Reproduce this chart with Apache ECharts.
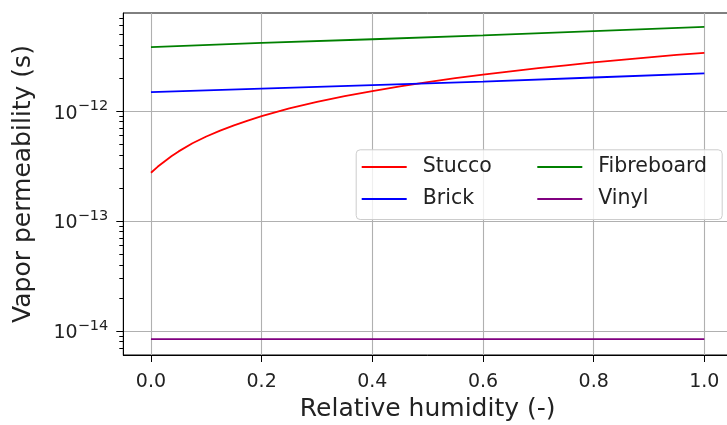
<!DOCTYPE html>
<html>
<head>
<meta charset="utf-8">
<script src="https://cdn.jsdelivr.net/npm/echarts@6/dist/echarts.min.js"></script>
<style>
  html, body { margin: 0; padding: 0; background: #fff; overflow: hidden; }
  #chart { width: 732px; height: 425px; }
</style>
</head>
<body>
<div id="chart"></div>
<script>
// relative humidity samples
const rh = [0, 0.0125, 0.025, 0.0375, 0.05, 0.075, 0.1, 0.125, 0.15, 0.175, 0.2, 0.25, 0.3, 0.35, 0.4, 0.45, 0.5,
            0.55, 0.6, 0.65, 0.7, 0.75, 0.8, 0.85, 0.9, 0.95, 1.0];
// vapor permeability (s)
const stucco = [2.75e-13, 3.13e-13, 3.5e-13, 3.9e-13, 4.3e-13, 5.1e-13, 5.87e-13, 6.64e-13, 7.42e-13, 8.2e-13, 8.98e-13,
                1.06e-12, 1.21e-12, 1.37e-12, 1.52e-12, 1.68e-12, 1.83e-12,
                1.99e-12, 2.15e-12, 2.3e-12, 2.46e-12, 2.61e-12, 2.77e-12, 2.92e-12, 3.08e-12, 3.24e-12, 3.39e-12];
const rhCoarse = [0, 0.2, 0.4, 0.6, 0.8, 1.0];
const brick = [1.49e-12, 1.6e-12, 1.72e-12, 1.85e-12, 2.02e-12, 2.2e-12];
const fibreboard = [3.81e-12, 4.18e-12, 4.5e-12, 4.88e-12, 5.34e-12, 5.83e-12];
const vinyl = [8.45e-15, 8.45e-15, 8.45e-15, 8.45e-15, 8.45e-15, 8.45e-15];

const xTicks = [0, 0.2, 0.4, 0.6, 0.8, 1.0];
const yMajor = [1e-14, 1e-13, 1e-12];
const yMinor = [7e-15, 8e-15, 9e-15,
  2e-14, 3e-14, 4e-14, 5e-14, 6e-14, 7e-14, 8e-14, 9e-14,
  2e-13, 3e-13, 4e-13, 5e-13, 6e-13, 7e-13, 8e-13, 9e-13,
  2e-12, 3e-12, 4e-12, 5e-12, 6e-12, 7e-12];

const font = "DejaVu Sans";
const pair = (xs, ys) => xs.map((x, i) => [x, ys[i]]);

const lineSeries = (name, color, data) => ({
  name: name,
  type: "line",
  data: data,
  showSymbol: false,
  symbol: "none",
  smooth: false,
  lineStyle: { color: color, width: 1.8 },
  itemStyle: { color: color },
  z: 3
});

const chart = echarts.init(document.getElementById("chart"));

chart.setOption({
  animation: false,
  textStyle: { fontFamily: font },
  grid: {
    left: 123.3, right: 0, top: 13, bottom: 70,
    outerBoundsMode: "none",
    containLabel: false,
    show: true, borderColor: "#000", borderWidth: 1
  },
  xAxis: {
    type: "value",
    min: -0.05, max: 1.05,
    name: "Relative humidity (-)",
    nameLocation: "middle",
    nameGap: 42,
    nameTextStyle: { fontSize: 25, color: "#222", fontFamily: font },
    axisLine: { show: true, onZero: false, lineStyle: { color: "#000", width: 1 } },
    axisTick: { show: true, length: 7, inside: false, customValues: xTicks, lineStyle: { color: "#000" } },
    axisLabel: {
      customValues: xTicks, margin: 18, fontSize: 19, color: "#222", fontFamily: font,
      formatter: v => v.toFixed(1)
    },
    splitLine: { show: true, lineStyle: { color: "#b0b0b0", width: 1.1 } }
  },
  yAxis: [{
    type: "log",
    min: 6.05e-15, max: 7.8e-12,
    name: "Vapor permeability (s)",
    nameLocation: "middle",
    nameGap: 87,
    nameTextStyle: { fontSize: 25, color: "#222", fontFamily: font },
    axisLine: { show: true, onZero: false, lineStyle: { color: "#000", width: 1 } },
    axisTick: { show: true, length: 7, customValues: yMajor, lineStyle: { color: "#000" } },
    axisLabel: {
      customValues: yMajor, margin: 15, color: "#222",
      formatter: v => "{b|10}{s|\u2212" + Math.round(-Math.log10(v)) + "}",
      rich: {
        b: { fontSize: 19, fontFamily: font, color: "#222", lineHeight: 24, verticalAlign: "bottom" },
        s: { fontSize: 14.5, fontFamily: font, color: "#222", lineHeight: 16, verticalAlign: "top" }
      }
    },
    splitLine: { show: true, lineStyle: { color: "#b0b0b0", width: 1.1 } }
  }, {
    type: "log",
    min: 6.05e-15, max: 7.8e-12,
    position: "left",
    axisLine: { show: false, onZero: false },
    axisTick: { show: true, length: 4, customValues: yMinor, lineStyle: { color: "#000" } },
    axisLabel: { show: false },
    splitLine: { show: false }
  }],
  legend: [{
    data: ["Stucco", "Brick"],
    orient: "vertical",
    left: 361.7, top: 156,
    padding: 0,
    itemWidth: 45, itemHeight: 2, itemGap: 10,
    icon: "rect",
    textStyle: { fontSize: 20.5, fontFamily: font, color: "#222", lineHeight: 22, padding: [0, 0, 0, 11] },
    z: 6
  }, {
    data: ["Fibreboard", "Vinyl"],
    orient: "vertical",
    left: 537.3, top: 156,
    padding: 0,
    itemWidth: 45, itemHeight: 2, itemGap: 10,
    icon: "rect",
    textStyle: { fontSize: 20.5, fontFamily: font, color: "#222", lineHeight: 22, padding: [0, 0, 0, 11] },
    z: 6
  }],
  graphic: [{
    type: "rect",
    left: 355.7, top: 149.3,
    shape: { width: 366, height: 69.7, r: 4 },
    style: { fill: "rgba(255,255,255,0.8)", stroke: "#cccccc", lineWidth: 1 },
    z: 5
  }],
  series: [
    lineSeries("Stucco", "#ff0000", pair(rh, stucco)),
    lineSeries("Brick", "#0000ff", pair(rhCoarse, brick)),
    lineSeries("Fibreboard", "#008000", pair(rhCoarse, fibreboard)),
    lineSeries("Vinyl", "#800080", pair(rhCoarse, vinyl))
  ]
});
</script>
</body>
</html>
